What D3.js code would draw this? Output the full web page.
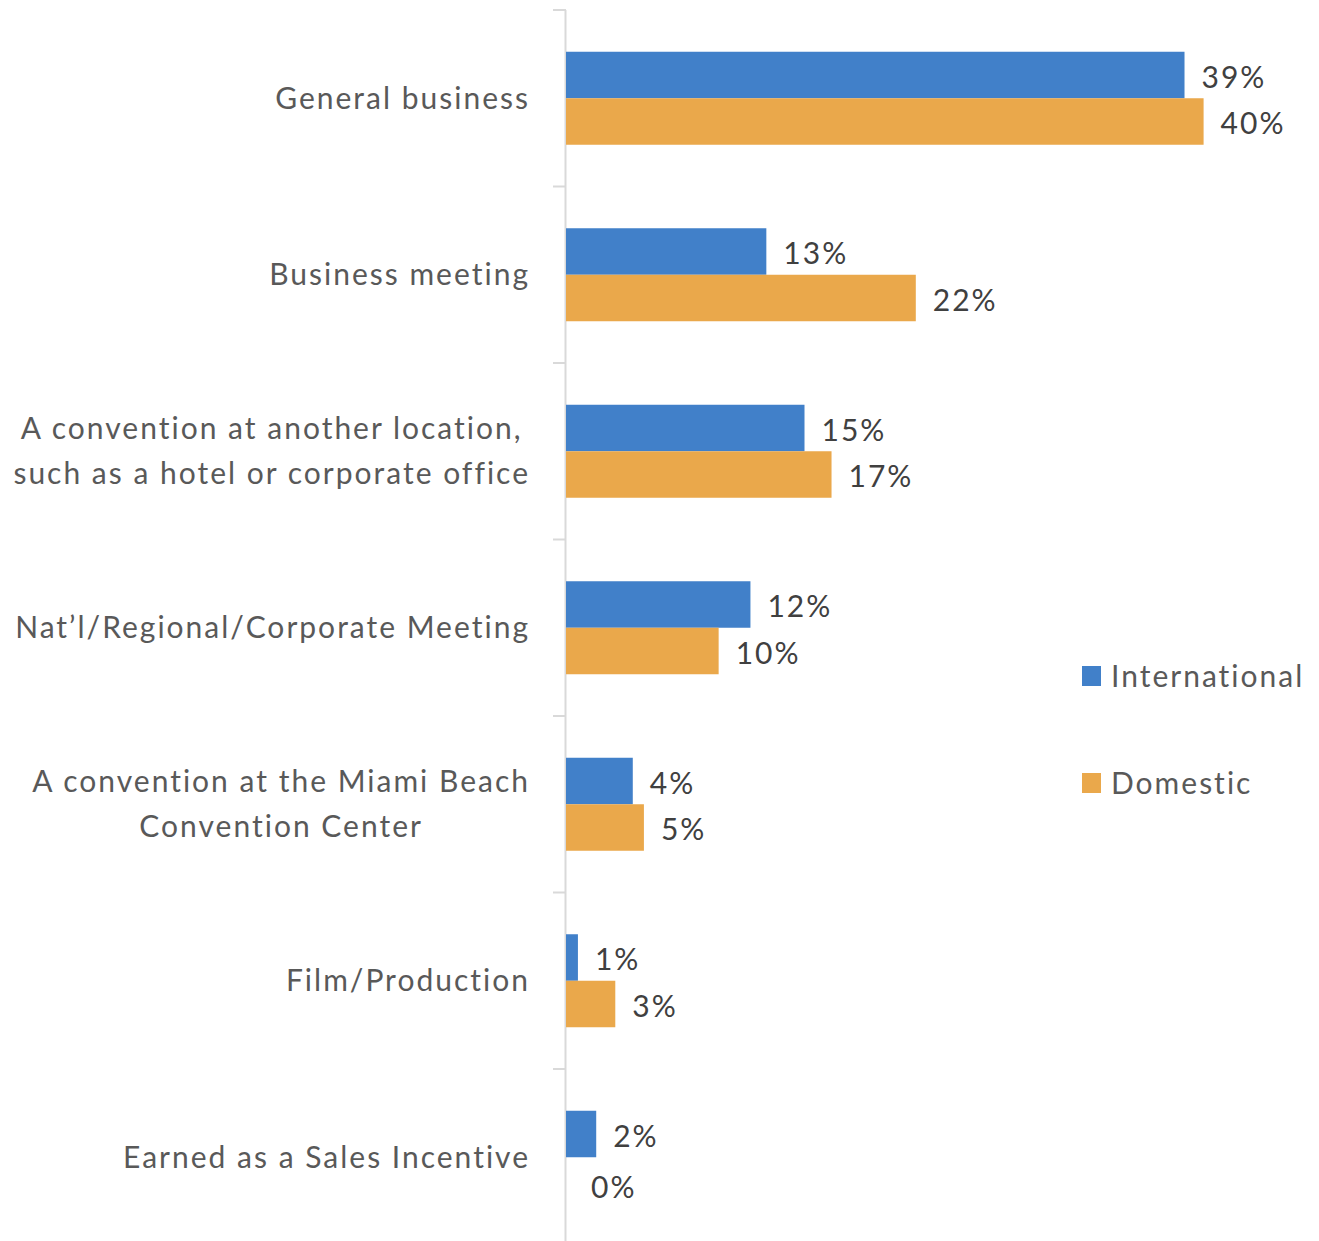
<!DOCTYPE html>
<html>
<head>
<meta charset="utf-8">
<script src="https://cdn.jsdelivr.net/npm/d3@7"></script>
<style>
	body{margin:0;background:#fff;}
	text{font-family:Lato,"Open Sans",sans-serif;letter-spacing:2px;}
</style>
</head>
<body>
<div id="chart"></div>
<script>
var categories=[
	["General business"],
	["Business meeting"],
	["A convention at another location,","such as a hotel or corporate office"],
	["Nat\u2019l/Regional/Corporate Meeting"],
	["A convention at the Miami Beach","Convention Center"],
	["Film/Production"],
	["Earned as a Sales Incentive"]
];
var series=["International","Domestic"];
var international=[38.9,12.6,15.0,11.6,4.2,0.75,1.9];
var domestic=[40.1,22.0,16.7,9.6,4.9,3.1,0];
var colors=["#4180c9","#eaa84b"];

var width=1319,height=1241;
var svg=d3.select("#chart").append("svg").attr("width",width).attr("height",height);

var catKeys=categories.map(function(c){return c.join(" ");});
var y=d3.scaleBand().domain(catKeys).range([10,10+7*176.5]);
var x=d3.scaleLinear().domain([0,45]).range([566,566+45*15.9]);
var y1=d3.scaleBand().domain(series).range([y.bandwidth()/2-46.5,y.bandwidth()/2+46.5]);

var rows=[];
catKeys.forEach(function(k,i){
	rows.push({cat:k,s:"International",v:international[i],c:colors[0]});
	rows.push({cat:k,s:"Domestic",v:domestic[i],c:colors[1]});
});

// axis line + ticks at band edges
var edges=catKeys.map(function(k){return y(k);}).concat([y.range()[1]]);
svg.append("line").attr("x1",x(0)-0.5).attr("x2",x(0)-0.5).attr("y1",edges[0]).attr("y2",height)
	.attr("stroke","#d9d9d9").attr("stroke-width",2);
svg.selectAll(".tk").data(edges).enter().append("line")
	.attr("x1",x(0)-13).attr("x2",x(0)).attr("y1",function(d){return d;}).attr("y2",function(d){return d;})
	.attr("stroke","#d9d9d9").attr("stroke-width",2);

// bars
svg.selectAll(".bar").data(rows).enter().append("rect")
	.attr("x",x(0))
	.attr("y",function(d){return y(d.cat)+y1(d.s);})
	.attr("width",function(d){return x(d.v)-x(0);})
	.attr("height",y1.bandwidth())
	.attr("fill",function(d){return d.c;});

// value labels
svg.selectAll(".val").data(rows).enter().append("text")
	.attr("x",function(d){return x(d.v)+(d.v==0?25:17);})
	.attr("y",function(d){return y(d.cat)+y1(d.s)+y1.bandwidth()/2+(d.v==0?7:2);})
	.attr("dy","0.35em")
	.attr("font-size",30)
	.attr("fill","#404040")
	.text(function(d){return Math.round(d.v)+"%";});

// category labels (centered block, right aligned)
var lineH=45;
categories.forEach(function(lines,i){
	var g=svg.append("g");
	var cy=y(catKeys[i])+y.bandwidth()/2;
	var t=g.selectAll("text").data(lines).enter().append("text")
		.attr("y",function(d,j){return cy+(j-(lines.length-1)/2)*lineH;})
		.attr("dy","0.35em")
		.attr("font-size",30)
		.attr("fill","#595959")
		.attr("text-anchor","middle")
		.text(function(d){return d;});
	var maxW=0;
	t.each(function(){maxW=Math.max(maxW,this.getComputedTextLength());});
	t.attr("x",530-maxW/2);
});

// legend
var leg=svg.selectAll(".leg").data(series).enter().append("g")
	.attr("transform",function(d,i){return "translate(1082,"+(676+i*107)+")";});
leg.append("rect").attr("x",0).attr("y",-10).attr("width",19).attr("height",20)
	.attr("fill",function(d,i){return colors[i];});
leg.append("text").attr("x",29).attr("y",0).attr("dy","0.35em")
	.attr("font-size",30).attr("fill","#595959")
	.text(function(d){return d;});
</script>
</body>
</html>
